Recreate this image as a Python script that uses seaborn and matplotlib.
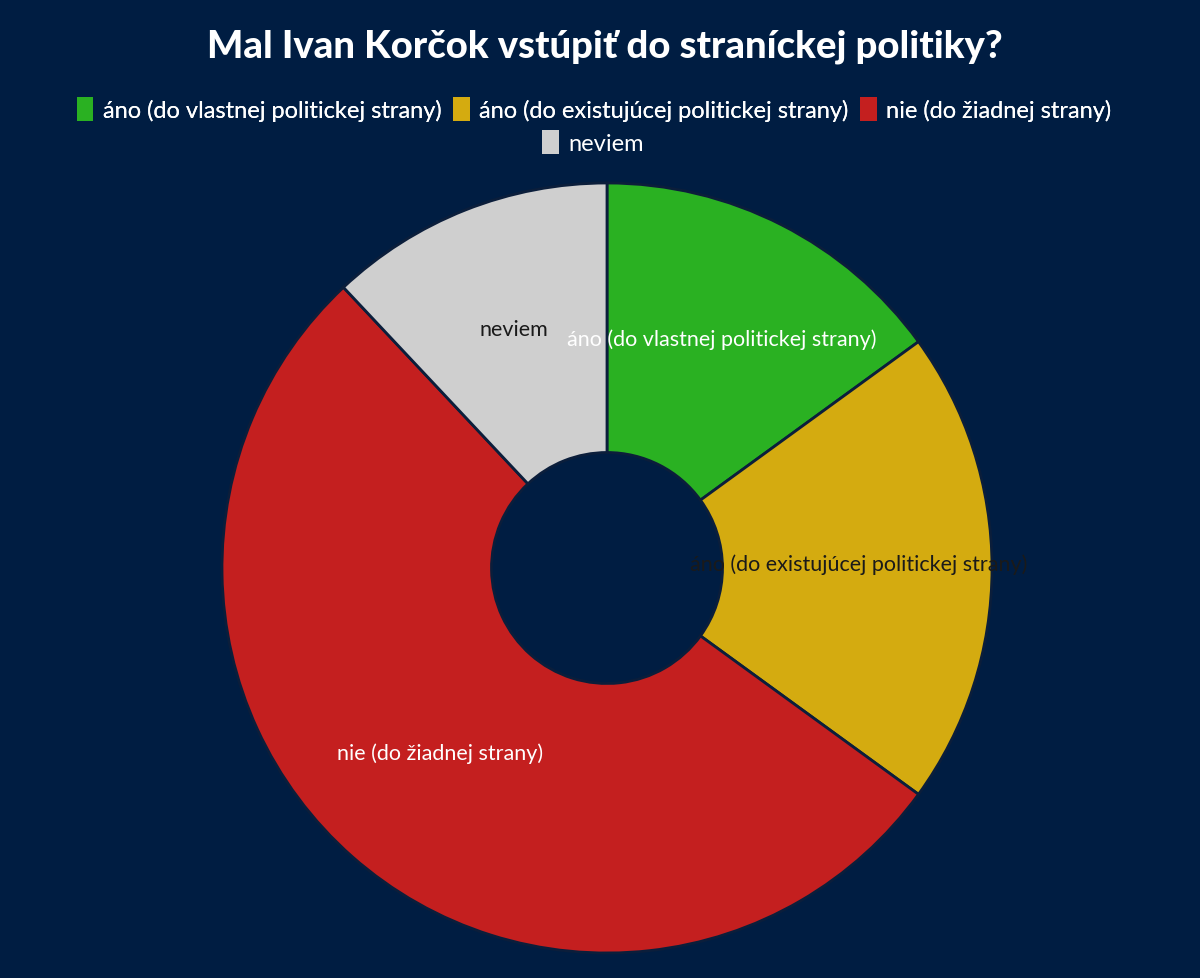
import matplotlib
matplotlib.use("Agg")
import matplotlib.pyplot as plt
from matplotlib.patches import Patch
import seaborn as sns

categories = ["áno (do vlastnej politickej strany)",
              "áno (do existujúcej politickej strany)",
              "nie (do žiadnej strany)",
              "neviem"]
values = [15, 20, 53, 12]
colors = ["#2ab122", "#d4ab10", "#c41f1f", "#cfcfcf"]
label_colors = ["white", "#1a1a1a", "white", "#1a1a1a"]
title = "Mal Ivan Korčok vstúpiť do straníckej politiky?"

bg = "#001d42"
sns.set_theme(style="white")
plt.rcParams["font.family"] = ["Lato", "DejaVu Sans"]

fig = plt.figure(figsize=(12, 9.79), dpi=100, facecolor=bg)
ax = fig.add_axes([222/1200, 25/979, 770/1200, 770/979])
ax.set_facecolor(bg)

wedges, texts = ax.pie(values, labels=categories, colors=colors, startangle=90,
                       counterclock=False, labeldistance=0.655,
                       wedgeprops=dict(width=0.70, edgecolor="#0b1e3b", linewidth=2),
                       textprops=dict(fontsize=15.5, ha="center", va="center"))
for t, c in zip(texts, label_colors):
    t.set_color(c)
    t.set_horizontalalignment("center")
    x, y = t.get_position()
    t.set_position((x, y + 0.012))
ax.set_xlim(-1, 1)
ax.set_ylim(-1, 1)
ax.set_aspect("equal")
ax.axis("off")

fig.text(0.504, 1 - 47/979, title, ha="center", va="center", fontsize=27.5,
         fontweight="black", color="white")

handles = [Patch(facecolor=c, edgecolor="none") for c in colors]
leg1 = fig.legend(handles[:3], categories[:3], loc="center", ncol=3,
                  bbox_to_anchor=(0.495, 1 - 110/979), frameon=False,
                  fontsize=17, labelcolor="white", handlelength=0.7, handleheight=1.2,
                  handletextpad=0.4, columnspacing=0.5)
fig.add_artist(leg1)
fig.legend(handles[3:], categories[3:], loc="center", ncol=1,
           bbox_to_anchor=(0.494, 1 - 143/979), frameon=False,
           fontsize=17, labelcolor="white", handlelength=0.7, handleheight=1.2,
           handletextpad=0.4)

fig.savefig("out.png", dpi=100, facecolor=bg)
